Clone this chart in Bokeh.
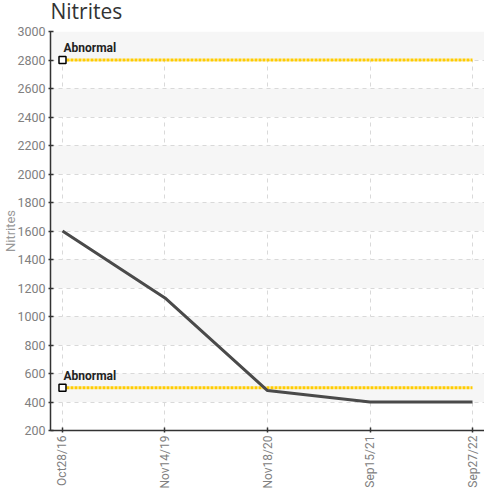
from bokeh.plotting import figure
from bokeh.models import Range1d, FixedTicker, ColumnDataSource, Label
from bokeh.embed import file_html
from bokeh.resources import INLINE

# ---- data ----
dates = ["Oct28/16", "Nov14/19", "Nov18/20", "Sep15/21", "Sep27/22"]
nitrites = [1600, 1130, 480, 400, 400]
abnormal_levels = [2800, 500]
abnormal_label = "Abnormal"
y_ticks = list(range(200, 3001, 200))
title_text = "Nitrites"
y_label = "Nitrites"

x_idx = list(range(len(dates)))

p = figure(width=484, height=513, output_backend="svg", toolbar_location=None,
           x_range=Range1d(-0.117, len(dates) - 1 + 0.117),
           y_range=Range1d(y_ticks[0], y_ticks[-1]),
           min_border_left=50, min_border_right=0, min_border_top=47, min_border_bottom=67,
           background_fill_color="white", border_fill_color="white")
p.styles = {"margin-top": "-16px"}
p.outline_line_color = None

p.title.text = title_text
p.title.text_font = "Open Sans"
p.title.text_font_size = "21px"
p.title.text_font_style = "normal"
p.title.text_color = "#333333"
p.title.offset = 0
p.title.standoff = 13

# grids
p.xgrid.ticker = FixedTicker(ticks=x_idx)
p.ygrid.ticker = FixedTicker(ticks=[y_ticks[0] - 200] + y_ticks)
for g in (p.xgrid, p.ygrid):
    g.grid_line_color = "#d9d9d9"
    g.grid_line_dash = "4 4"
    g.grid_line_width = 1
p.ygrid.band_fill_color = "#f6f6f6"
p.ygrid.band_fill_alpha = 1.0

# axes
p.xaxis.ticker = FixedTicker(ticks=x_idx)
p.xaxis.major_label_overrides = {i: d for i, d in zip(x_idx, dates)}
p.xaxis.major_label_orientation = 1.5708
p.yaxis.ticker = FixedTicker(ticks=y_ticks)
p.yaxis.axis_label = y_label
p.yaxis.axis_label_text_font = "Liberation Sans Narrow, Roboto"
p.yaxis.axis_label_text_font_size = "13px"
p.yaxis.axis_label_text_font_style = "normal"
p.yaxis.axis_label_text_color = "#999999"
p.yaxis.axis_label_standoff = -4
for ax in (p.xaxis, p.yaxis):
    ax.axis_line_color = "#333333"
    ax.axis_line_width = 1.5
    ax.major_tick_line_color = "#333333"
    ax.major_tick_line_width = 1.5
    ax.major_tick_in = 3
    ax.major_tick_out = 2
    ax.minor_tick_line_color = None
    ax.major_label_text_font = "Roboto"
    ax.major_label_text_font_size = "12.5px"
    ax.major_label_text_color = "#808080"
    ax.major_label_standoff = 3
p.xaxis.major_label_text_font_size = "12px"

# abnormal lines
for lvl in abnormal_levels:
    p.line([x_idx[0], x_idx[-1]], [lvl, lvl], line_color="#FFCC00", line_width=3,
           line_dash="3 1")

# main series
src = ColumnDataSource(dict(x=x_idx, y=nitrites))
p.line("x", "y", source=src, line_color="#4a4a4a", line_width=3)

# abnormal markers + labels
for lvl in abnormal_levels:
    p.scatter([x_idx[0]], [lvl], marker="square", size=7, fill_color="white",
              line_color="black", line_width=1.5)
    p.add_layout(Label(x=x_idx[0], y=lvl, text=abnormal_label, x_offset=1, y_offset=5,
                       text_font="Roboto", text_font_size="12px", text_font_style="bold",
                       text_color="#222222", text_baseline="bottom"))

open("out.html", "w").write(file_html(p, INLINE))
